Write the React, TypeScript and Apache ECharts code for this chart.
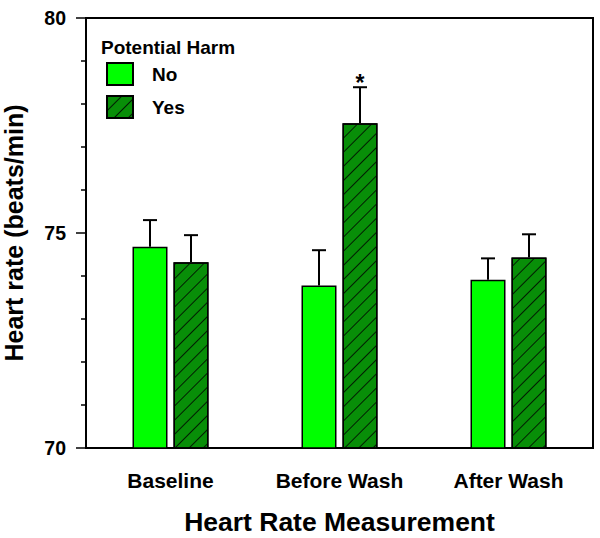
import React, { useEffect, useRef } from "react";
import * as echarts from "echarts";

const categories = ["Baseline", "Before Wash", "After Wash"];
const seriesNames = ["No", "Yes"];
const noValues = [74.68, 73.78, 73.91];
const noErrors = [0.62, 0.82, 0.5];
const yesValues = [74.32, 77.55, 74.43];
const yesErrors = [0.63, 0.84, 0.54];
const significance = ["", "*", ""];
const yTicks = { min: 70, max: 80, interval: 5 };

const FONT = "'Liberation Sans', Arial, Helvetica, sans-serif";
const BAR_W = 35;
const BAR_GAP = 6;

export default function App() {
  const ref = useRef<HTMLDivElement>(null);
  useEffect(() => {
    document.body.style.margin = "0";
    const chart = echarts.init(ref.current!, null, { renderer: "svg" });
    const offset = (BAR_W + BAR_GAP) / 2;
    const errData: any[] = [];
    noValues.forEach((v, i) => errData.push([i, v, noErrors[i], -1, ""]));
    yesValues.forEach((v, i) => errData.push([i, v, yesErrors[i], 1, significance[i]]));

    chart.setOption({
      animation: false,
      title: {
        text: "Potential Harm",
        left: 101,
        top: 38,
        padding: 0,
        textStyle: { fontFamily: FONT, fontWeight: "bold", fontSize: 19, color: "#000" },
      },
      legend: {
        data: seriesNames,
        orient: "vertical",
        left: 106,
        top: 62,
        padding: 0,
        itemWidth: 26,
        itemHeight: 22,
        itemGap: 9,
        icon: "rect",
        textStyle: {
          fontFamily: FONT,
          fontWeight: "bold",
          fontSize: 19,
          color: "#000",
          padding: [0, 0, 0, 14],
        },
      },
      grid: {
        left: 86,
        right: 7,
        top: 18,
        bottom: 90,
        outerBoundsMode: "none",
        containLabel: false,
        show: true,
        borderColor: "#000",
        borderWidth: 2,
      },
      xAxis: {
        type: "category",
        data: categories,
        name: "Heart Rate Measurement",
        nameLocation: "middle",
        nameGap: 60,
        nameTextStyle: { fontFamily: FONT, fontWeight: "bold", fontSize: 26.5, color: "#000" },
        axisLine: { lineStyle: { color: "#000", width: 2 } },
        axisTick: { alignWithLabel: true, length: 9, lineStyle: { color: "#000", width: 1.5 } },
        axisLabel: { fontFamily: FONT, fontWeight: "bold", fontSize: 21, color: "#000", margin: 22 },
      },
      yAxis: {
        type: "value",
        min: yTicks.min,
        max: yTicks.max,
        interval: yTicks.interval,
        name: "Heart rate (beats/min)",
        nameLocation: "middle",
        nameGap: 60,
        nameTextStyle: { fontFamily: FONT, fontWeight: "bold", fontSize: 25, color: "#000" },
        axisLine: { show: true, lineStyle: { color: "#000", width: 2 } },
        axisTick: { show: true, length: 10, lineStyle: { color: "#000", width: 1.5 } },
        minorTick: { show: true, splitNumber: 5, length: 5, lineStyle: { color: "#000", width: 1.5 } },
        splitLine: { show: false },
        axisLabel: { fontFamily: FONT, fontWeight: "bold", fontSize: 19.5, color: "#000", margin: 20 },
      },
      series: [
        {
          name: "No",
          type: "bar",
          data: noValues,
          barWidth: BAR_W,
          barGap: (BAR_GAP / BAR_W) * 100 + "%",
          itemStyle: { color: "#00FF00", borderColor: "#000", borderWidth: 1.5 },
        },
        {
          name: "Yes",
          type: "bar",
          data: yesValues,
          barWidth: BAR_W,
          itemStyle: {
            color: "#088E08",
            borderColor: "#000",
            borderWidth: 1.5,
            decal: {
              symbol: "rect",
              symbolSize: 1,
              dashArrayX: [1, 0],
              dashArrayY: [1, 9],
              rotation: -Math.PI / 4,
              color: "rgba(0,0,0,0.8)",
            },
          },
        },
        {
          type: "custom",
          data: errData,
          z: 5,
          silent: true,
          renderItem: (params: any, api: any) => {
            const idx = api.value(0);
            const v = api.value(1);
            const e = api.value(2);
            const side = api.value(3);
            const sig = errData[params.dataIndex][4];
            const base = api.coord([idx, v]);
            const top = api.coord([idx, v + e]);
            const x = base[0] + side * offset;
            const children: any[] = [
              { type: "line", shape: { x1: x, y1: base[1], x2: x, y2: top[1] }, style: { stroke: "#000", lineWidth: 2 } },
              { type: "line", shape: { x1: x - 7, y1: top[1], x2: x + 7, y2: top[1] }, style: { stroke: "#000", lineWidth: 2 } },
            ];
            if (sig) {
              children.push({
                type: "text",
                style: {
                  text: sig,
                  x: x,
                  y: top[1] - 4,
                  align: "center",
                  verticalAlign: "middle",
                  fontFamily: FONT,
                  fontWeight: "bold",
                  fontSize: 23,
                  fill: "#000",
                },
              });
            }
            return { type: "group", children };
          },
        },
      ],
    });
    return () => chart.dispose();
  }, []);
  return <div ref={ref} style={{ width: 600, height: 538 }} />;
}
